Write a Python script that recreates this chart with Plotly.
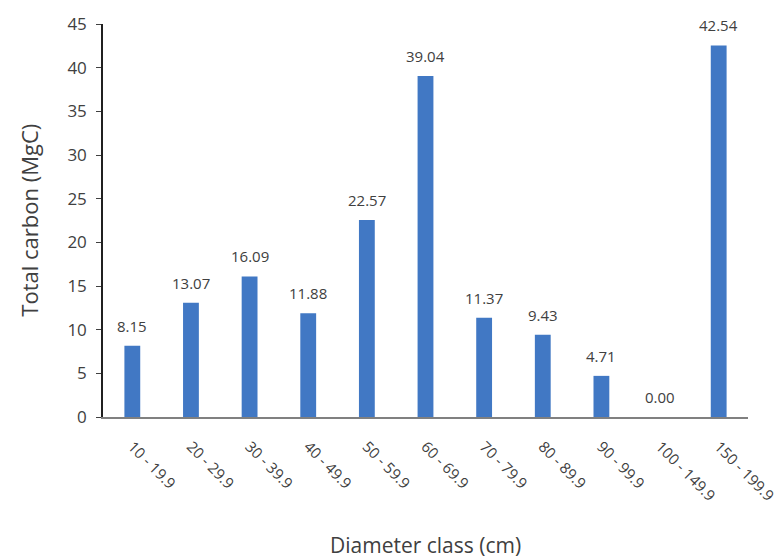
import plotly.graph_objects as go

categories = ["10 - 19.9", "20 - 29.9", "30 - 39.9", "40 - 49.9", "50 - 59.9",
              "60 - 69.9", "70 - 79.9", "80 - 89.9", "90 - 99.9", "100 - 149.9", "150 - 199.9"]
values = [8.15, 13.07, 16.09, 11.88, 22.57, 39.04, 11.37, 9.43, 4.71, 0.00, 42.54]
y_ticks = [0, 5, 10, 15, 20, 25, 30, 35, 40, 45]

FONT = "Open Sans"
TXT = "#404040"

fig = go.Figure(go.Bar(
    x=categories, y=values,
    marker=dict(color="#4178C4", line=dict(width=0)),
))

value_labels = [
    dict(x=c, y=v, xref="x", yref="y", text=f"{v:.2f}", showarrow=False,
         yanchor="bottom", xanchor="center", yshift=8,
         font=dict(family=FONT, size=15, color=TXT))
    for c, v in zip(categories, values)
]

# the page body has an 8px margin, so offsets are reduced accordingly
fig.update_layout(
    width=783, height=558,
    margin=dict(l=95, r=43, t=16, b=149),
    paper_bgcolor="white", plot_bgcolor="white",
    bargap=0.73,
    showlegend=False,
    font=dict(family=FONT, color=TXT),
    annotations=value_labels + [
        dict(text="Diameter class (cm)", xref="paper", yref="paper", x=0.5, y=-0.325,
             xanchor="center", yanchor="middle", showarrow=False,
             font=dict(family=FONT, size=21, color=TXT)),
        dict(text="Total carbon (MgC)", xref="paper", yref="paper", x=-0.116, y=0.5,
             xanchor="center", yanchor="middle", showarrow=False, textangle=-90,
             font=dict(family=FONT, size=22, color=TXT)),
    ],
)
fig.update_xaxes(
    automargin=False,
    tickangle=45,
    ticklabelstandoff=13,
    tickfont=dict(family=FONT, size=15, color=TXT),
    showline=True, linecolor="#808080", linewidth=2,
    ticks="", showgrid=False,
)
fig.update_yaxes(
    automargin=False,
    range=[0, 45], tickvals=y_ticks,
    ticklabelstandoff=6,
    tickfont=dict(family=FONT, size=17, color=TXT),
    showline=True, linecolor="#202020", linewidth=1.5,
    ticks="outside", ticklen=5, tickcolor=TXT,
    showgrid=False, zeroline=False,
)

fig.write_html("out.html")
